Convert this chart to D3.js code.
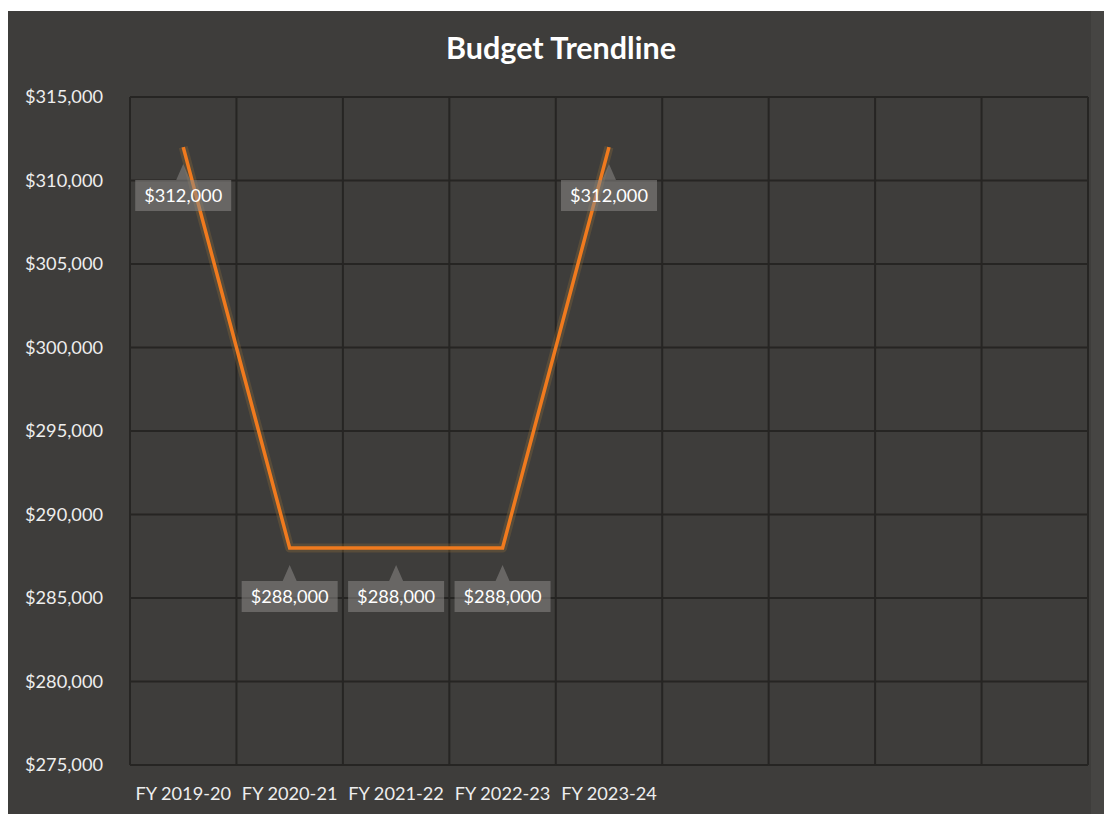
<!DOCTYPE html>
<html><head><meta charset="utf-8">
<script src="https://cdn.jsdelivr.net/npm/d3@7"></script>
<style>
html,body{margin:0;padding:0;background:#fff;}
svg{display:block;}
</style></head>
<body>
<svg id="chart" width="1104" height="814"></svg>
<script>
// ---- data ----
const title = "Budget Trendline";
const categories = ["FY 2019-20","FY 2020-21","FY 2021-22","FY 2022-23","FY 2023-24","","","",""];
const budget = [312000, 288000, 288000, 288000, 312000];
const yTicks = [275000,280000,285000,290000,295000,300000,305000,310000,315000];

const svg = d3.select("#chart");
const W = 1104, H = 814;
const m = {left:130, right:1088, top:97, bottom:765};
const font = "Lato, 'Open Sans', sans-serif";

// background (chart area)
svg.append("rect").attr("x",8).attr("y",11).attr("width",W-8).attr("height",H-11).attr("fill","#3e3d3b");
svg.append("rect").attr("x",1091).attr("y",11).attr("width",13).attr("height",H-11).attr("fill","#464543");

const x = d3.scaleBand().domain(d3.range(categories.length)).range([m.left, m.right]).padding(0);
const y = d3.scaleLinear().domain([275000,315000]).range([m.bottom, m.top]);

// grid
const grid = svg.append("g");
grid.selectAll("line.h").data(yTicks).join("line")
  .attr("x1",m.left).attr("x2",m.right)
  .attr("y1",d=>y(d)).attr("y2",d=>y(d))
  .attr("stroke","#262523").attr("stroke-width",2);
const vx = d3.range(categories.length+1).map(i => i<categories.length ? x(i) : m.right);
grid.selectAll("line.v").data(vx).join("line")
  .attr("x1",d=>d).attr("x2",d=>d)
  .attr("y1",m.top).attr("y2",m.bottom)
  .attr("stroke","#262523").attr("stroke-width",2);

// y axis
const yAxis = d3.axisLeft(y).tickValues(yTicks).tickSize(0).tickPadding(0)
  .tickFormat(d => "$" + d3.format(",")(d));
const yg = svg.append("g").attr("transform",`translate(${m.left-27},0)`).call(yAxis);
yg.select(".domain").remove();
yg.selectAll("text").attr("fill","#eeeeee").attr("font-family",font).attr("font-size",18.2);

// x axis
const xAxis = d3.axisBottom(x).tickSize(0).tickPadding(0).tickFormat(i => categories[i]);
const xg = svg.append("g").attr("transform",`translate(0,${m.bottom+22})`).call(xAxis);
xg.select(".domain").remove();
xg.selectAll("text").attr("fill","#eeeeee").attr("font-family",font).attr("font-size",18.2);

// title
svg.append("text").attr("x",561).attr("y",59).attr("text-anchor","middle")
  .attr("fill","#ffffff").attr("font-family",font).attr("font-weight","bold").attr("font-size",30.5)
  .text(title);

// line
const pts = budget.map((v,i)=>({i, v}));
const line = d3.line().x(d=>x(d.i)+x.bandwidth()/2).y(d=>y(d.v));
svg.append("path").datum(pts).attr("d",line).attr("fill","none")
  .attr("stroke","#8a6a3a").attr("stroke-opacity",0.35).attr("stroke-width",9).attr("stroke-linejoin","round");
svg.append("path").datum(pts).attr("d",line).attr("fill","none")
  .attr("stroke","#f07a1e").attr("stroke-width",3.5).attr("stroke-linejoin","miter");

// data callouts
const fmt = d => "$" + d3.format(",")(d);
const lab = svg.append("g");
pts.forEach(d => {
  const cx = x(d.i)+x.bandwidth()/2, cy = y(d.v);
  const bw = 96, bh = 31, top = cy + 33;
  const l = cx - bw/2, r = cx + bw/2;
  const p = d3.path();
  p.moveTo(l, top); p.lineTo(cx-7, top); p.lineTo(cx, top-16); p.lineTo(cx+7, top);
  p.lineTo(r, top); p.lineTo(r, top+bh); p.lineTo(l, top+bh); p.closePath();
  lab.append("path").attr("d",p.toString()).attr("fill","#8a8987").attr("fill-opacity",0.55);
  lab.append("text").attr("x",cx).attr("y",top+bh/2).attr("dy","0.35em").attr("text-anchor","middle")
    .attr("fill","#ffffff").attr("font-family",font).attr("font-size",18.2).text(fmt(d.v));
});
</script>
</body></html>
